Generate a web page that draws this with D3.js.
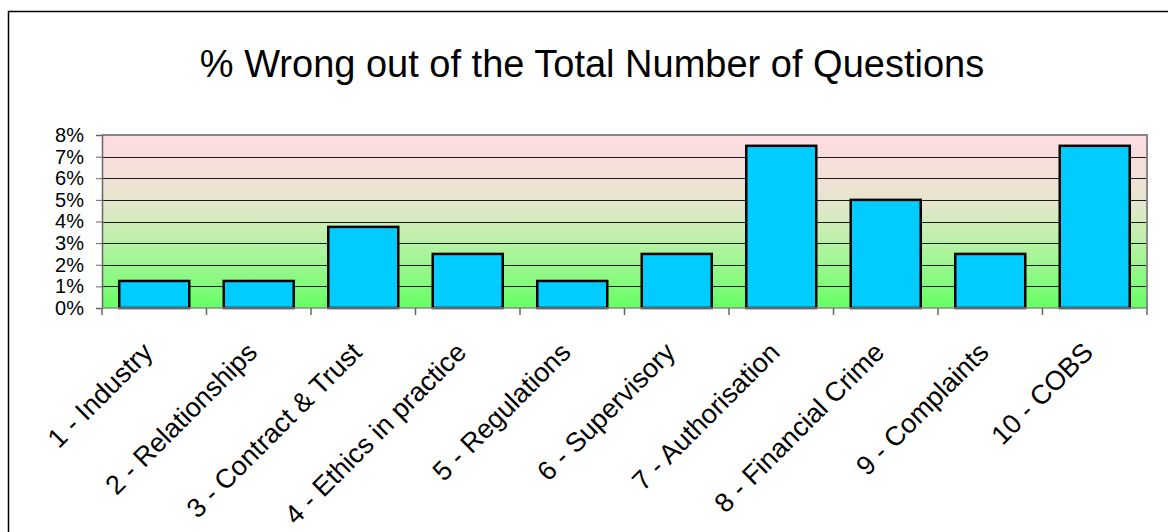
<!DOCTYPE html>
<html lang="en">
<head>
    <meta charset="UTF-8">
    <title>% Wrong out of the Total Number of Questions</title>
    <script src="https://cdnjs.cloudflare.com/ajax/libs/d3/7.8.5/d3.min.js"></script>
    <style>
        html, body {
            margin: 0;
            padding: 0;
            background: #fff;
        }
        text {
            font-family: Arial, "Liberation Sans", sans-serif;
            fill: #000;
        }
    </style>
</head>
<body>
    <div id="chart"></div>
    <script>
        const categories = [
            "1 - Industry", "2 - Relationships", "3 - Contract & Trust",
            "4 - Ethics in practice", "5 - Regulations", "6 - Supervisory",
            "7 - Authorisation", "8 - Financial Crime", "9 - Complaints", "10 - COBS"
        ];
        const wrongShare = [0.0125, 0.0125, 0.0375, 0.025, 0.0125, 0.025, 0.075, 0.05, 0.025, 0.075];
        const yTicks = [0, 0.01, 0.02, 0.03, 0.04, 0.05, 0.06, 0.07, 0.08];
        const title = "% Wrong out of the Total Number of Questions";

        const width = 1168, height = 532;
        const plot = { left: 102, right: 1147, top: 135, bottom: 308 };

        const svg = d3.select("#chart")
            .append("svg")
            .attr("width", width)
            .attr("height", height);

        // outer chart frame (runs off the right and bottom edges)
        svg.append("rect")
            .attr("x", 8.5).attr("y", 11.5)
            .attr("width", width + 20).attr("height", height + 20)
            .attr("fill", "#fff")
            .attr("stroke", "#000")
            .attr("stroke-width", 1.5);

        svg.append("text")
            .attr("x", 592)
            .attr("y", 77)
            .attr("text-anchor", "middle")
            .style("font-size", "38px")
            .text(title);

        const x = d3.scaleBand()
            .domain(categories)
            .range([plot.left, plot.right])
            .paddingInner(0.33)
            .paddingOuter(0.165);

        const y = d3.scaleLinear()
            .domain([0, 0.08])
            .range([plot.bottom, plot.top]);

        const grad = svg.append("defs").append("linearGradient")
            .attr("id", "bg")
            .attr("x1", 0).attr("y1", 0).attr("x2", 0).attr("y2", 1);
        [["0%", "#ffdce2"], ["22%", "#f3e0d8"], ["40%", "#e5e6cd"],
         ["55%", "#c8eeb2"], ["72%", "#a2f694"], ["100%", "#66ff66"]]
            .forEach(([o, c]) => grad.append("stop").attr("offset", o).attr("stop-color", c));

        svg.append("rect")
            .attr("x", plot.left).attr("y", plot.top)
            .attr("width", plot.right - plot.left)
            .attr("height", plot.bottom - plot.top)
            .attr("fill", "url(#bg)");

        // gridlines
        svg.append("g")
            .selectAll("line")
            .data(yTicks.slice(1, -1))
            .join("line")
            .attr("x1", plot.left).attr("x2", plot.right)
            .attr("y1", d => Math.round(y(d)) + 0.5)
            .attr("y2", d => Math.round(y(d)) + 0.5)
            .attr("stroke", "#1a1a1a")
            .attr("stroke-width", 1);

        // plot border top/right
        svg.append("path")
            .attr("d", `M${plot.left},${plot.top}H${plot.right}V${plot.bottom}`)
            .attr("fill", "none")
            .attr("stroke", "#888")
            .attr("stroke-width", 2);

        svg.append("g")
            .selectAll("rect")
            .data(categories)
            .join("rect")
            .attr("x", d => x(d))
            .attr("y", (d, i) => y(wrongShare[i]))
            .attr("width", x.bandwidth())
            .attr("height", (d, i) => y(0) - y(wrongShare[i]))
            .attr("fill", "#00ccff")
            .attr("stroke", "#000")
            .attr("stroke-width", 2.5);

        // y axis
        const yAxis = svg.append("g")
            .attr("transform", `translate(${plot.left},0)`)
            .call(d3.axisLeft(y).tickValues(yTicks).tickFormat(d3.format(".0%")).tickSize(6).tickPadding(12));
        yAxis.select(".domain").attr("stroke", "#666").attr("stroke-width", 1.5);
        yAxis.selectAll(".tick line").attr("stroke", "#666");
        yAxis.selectAll("text").style("font-size", "20px").attr("fill", "#000");

        // x axis: ticks sit on category boundaries
        const step = x.step();
        const bounds = d3.range(categories.length + 1).map(i => plot.left + i * step);
        svg.append("line")
            .attr("x1", plot.left).attr("x2", plot.right)
            .attr("y1", plot.bottom).attr("y2", plot.bottom)
            .attr("stroke", "#888").attr("stroke-width", 1.5);
        svg.append("g")
            .selectAll("line")
            .data(bounds)
            .join("line")
            .attr("x1", d => d).attr("x2", d => d)
            .attr("y1", plot.bottom).attr("y2", plot.bottom + 7)
            .attr("stroke", "#666").attr("stroke-width", 1.5);

        svg.append("g")
            .selectAll("text")
            .data(categories)
            .join("text")
            .attr("transform", d => `translate(${x(d) + x.bandwidth() / 2},354) rotate(-45)`)
            .attr("text-anchor", "end")
            .style("font-size", "27px")
            .text(d => d);
    </script>
</body>
</html>
